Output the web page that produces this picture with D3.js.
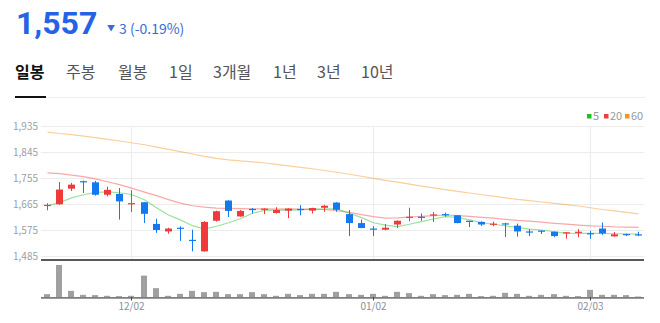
<!DOCTYPE html>
<html>
<head>
<meta charset="utf-8">
<script src="https://cdn.jsdelivr.net/npm/d3@7"></script>
<style>
  body { margin: 0; background: #fff; }
  svg { display: block; font-family: "Noto Sans CJK KR", "Noto Sans", sans-serif; }
</style>
</head>
<body>
<svg id="chart" width="660" height="323"></svg>
<script>
const dates = ["11/21","11/22","11/25","11/26","11/27","11/28","11/29","12/02","12/03","12/04",
  "12/05","12/06","12/09","12/10","12/11","12/12","12/13","12/16","12/17","12/18",
  "12/19","12/20","12/23","12/24","12/26","12/27","12/30","01/02","01/03","01/06",
  "01/07","01/08","01/09","01/10","01/13","01/14","01/15","01/16","01/17","01/20",
  "01/21","01/22","01/23","01/24","01/31","02/03","02/04","02/05","02/06","02/07"];
const opens = [1659,1664,1718,1744,1740,1697,1700,1665,1671,1596,
  1570,1583,1541,1501,1607,1677,1622,1648,1647,1634,
  1642,1648,1642,1652,1670,1630,1599,1580,1576,1594,
  1618,1621,1627,1630,1626,1607,1603,1595,1598,1590,
  1570,1573,1569,1565,1567,1564,1580,1553,1561,1560];
const highs = [1668,1741,1738,1746,1745,1725,1720,1713,1672,1614,
  1583,1588,1576,1606,1642,1678,1644,1651,1650,1654,
  1650,1661,1652,1662,1671,1644,1611,1588,1596,1608,
  1652,1632,1637,1635,1627,1607,1605,1604,1600,1597,
  1578,1574,1570,1568,1578,1572,1601,1568,1562,1569];
const lows = [1643,1662,1710,1703,1694,1691,1611,1637,1599,1565,
  1562,1537,1501,1500,1604,1620,1621,1632,1630,1632,
  1616,1626,1632,1638,1638,1554,1581,1554,1574,1582,
  1605,1607,1603,1621,1598,1585,1589,1588,1551,1552,
  1554,1561,1550,1545,1550,1545,1558,1552,1554,1554];
const closes = [1662,1715,1732,1742,1697,1714,1674,1668,1631,1575,
  1580,1581,1539,1603,1640,1641,1641,1644,1649,1644,
  1649,1647,1651,1659,1645,1599,1582,1579,1583,1607,
  1621,1620,1629,1629,1599,1605,1594,1597,1597,1570,
  1569,1570,1554,1567,1569,1563,1563,1560,1560,1557];
const volumes = [34,327,67,27,24,17,14,17,220,94,
  17,37,67,54,57,34,34,54,34,17,
  37,24,37,37,57,34,27,37,17,57,
  44,17,34,24,27,37,14,17,47,37,
  17,27,34,17,14,77,27,27,24,10];
const ma5 = [1659,1670,1686,1697,1705,1707,1704,1698,1680,1652,
  1627,1610,1590,1578,1588,1600,1614,1633,1643,1644,
  1644,1645,1647,1647,1649,1633,1618,1600,1592,1587,
  1595,1604,1613,1621,1619,1610,1600,1595,1589,1584,
  1578,1575,1569,1564,1563,1563,1563,1562,1562,1561];
const ma20 = [1773,1770,1765,1760,1752,1742,1732,1720,1706,1694,
  1680,1668,1659,1654,1651,1650,1649,1648,1648,1647,
  1648,1647,1647,1646,1642,1636,1628,1621,1616,1617,
  1620,1622,1625,1627,1625,1622,1619,1616,1612,1608,
  1606,1602,1598,1595,1592,1589,1588,1586,1585,1584];
const ma60 = [1914,1909,1905,1900,1895,1889,1883,1877,1870,1862,
  1854,1846,1838,1830,1823,1818,1814,1811,1807,1802,
  1797,1792,1787,1781,1775,1768,1761,1754,1747,1741,
  1734,1727,1721,1715,1709,1703,1697,1692,1686,1681,
  1677,1672,1667,1663,1658,1652,1646,1641,1636,1631];
const priceTicks = [1485, 1575, 1665, 1755, 1845, 1935];
const dateTicks = ["12/02", "01/02", "02/03"];
const tabs = ["일봉", "주봉", "월봉", "1일", "3개월", "1년", "3년", "10년"];
const legend = [{ name: "5", color: "#1ec21e" }, { name: "20", color: "#f23d3d" }, { name: "60", color: "#f7931e" }];

const UP = "#f03a3a";
const DOWN = "#1479ee";

const svg = d3.select("#chart");

// header
svg.append("text")
  .attr("x", 16).attr("y", 34)
  .attr("fill", "#2463e6")
  .style("font-family", "Roboto, 'Liberation Sans', sans-serif")
  .style("font-size", "32px").style("font-weight", "bold")
  .text("1,557");
svg.append("text")
  .attr("x", 107).attr("y", 31)
  .attr("fill", "#3a6cd8")
  .style("font-size", "8px")
  .text("▼");
svg.append("text")
  .attr("x", 119).attr("y", 34)
  .attr("fill", "#3a6cd8")
  .style("font-size", "14px")
  .text("3 (-0.19%)");

// tabs
const tabX = [15, 66, 118, 169, 213, 273, 317, 361];
tabs.forEach((t, i) => {
  svg.append("text")
    .attr("x", tabX[i]).attr("y", 78)
    .attr("fill", i === 0 ? "#111" : "#555")
    .style("font-size", "16px")
    .style("font-weight", i === 0 ? "bold" : "normal")
    .text(t);
});
svg.append("line").attr("x1", 15).attr("x2", 645).attr("y1", 97.5).attr("y2", 97.5)
  .attr("stroke", "#eeeeee");
svg.append("line").attr("x1", 15).attr("x2", 46).attr("y1", 97).attr("y2", 97)
  .attr("stroke", "#111").attr("stroke-width", 2);

// scales
const x = d3.scaleBand().domain(dates).range([41, 644]);
const cx = d => Math.round(x(d) + x.bandwidth() / 2) + 0.5;
const y = d3.scaleLinear().domain([1485, 1935]).range([256, 126]);
const yv = d3.scaleLinear().domain([0, d3.max(volumes)]).range([297.5, 265]);

// grid
priceTicks.forEach(p => {
  svg.append("line")
    .attr("x1", 41).attr("x2", 644)
    .attr("y1", Math.round(y(p)) + 0.5).attr("y2", Math.round(y(p)) + 0.5)
    .attr("stroke", "#ececec");
  svg.append("text")
    .attr("x", 38).attr("y", y(p)).attr("dy", "0.35em")
    .attr("text-anchor", "end")
    .attr("fill", "#9aa0a8")
    .style("font-size", "10px")
    .text(d3.format(",")(p));
});
dateTicks.forEach(d => {
  svg.append("line")
    .attr("x1", cx(d)).attr("x2", cx(d)).attr("y1", 126).attr("y2", 259)
    .attr("stroke", "#ececec");
});

// legend
let lx = 587;
legend.forEach((l, i) => {
  svg.append("rect").attr("x", lx).attr("y", 114).attr("width", 4.5).attr("height", 4.5).attr("fill", l.color);
  svg.append("text").attr("x", lx + 6).attr("y", 119.5)
    .attr("fill", "#999").style("font-size", "11px").text(l.name);
  lx += i === 0 ? 17 : 21;
});

// moving averages
const maLine = d3.line().x((v, i) => cx(dates[i])).y(v => y(v));
[[ma60, legend[2].color], [ma20, legend[1].color], [ma5, legend[0].color]].forEach(([s, c]) => {
  svg.append("path")
    .attr("d", maLine(s))
    .attr("fill", "none")
    .attr("stroke", c)
    .attr("stroke-opacity", 0.45)
    .attr("stroke-width", 1.2);
});

// candles
dates.forEach((d, i) => {
  const c = closes[i] >= opens[i] ? UP : DOWN;
  const xc = cx(d);
  svg.append("line")
    .attr("x1", xc).attr("x2", xc)
    .attr("y1", y(highs[i])).attr("y2", y(lows[i]))
    .attr("stroke", c);
  const top = y(Math.max(opens[i], closes[i]));
  const bot = y(Math.min(opens[i], closes[i]));
  svg.append("rect")
    .attr("x", xc - 3.5).attr("width", 7)
    .attr("y", top).attr("height", Math.max(1.2, bot - top))
    .attr("fill", c);
});

// separator
svg.append("line").attr("x1", 41).attr("x2", 644).attr("y1", 260).attr("y2", 260)
  .attr("stroke", "#222").attr("stroke-width", 1.5);

// volume
dates.forEach((d, i) => {
  svg.append("rect")
    .attr("x", cx(d) - 3.5).attr("width", 6)
    .attr("y", yv(volumes[i])).attr("height", 297.5 - yv(volumes[i]))
    .attr("fill", "#a0a0a0");
});
svg.append("line").attr("x1", 41).attr("x2", 644).attr("y1", 297.8).attr("y2", 297.8)
  .attr("stroke", "#7d7d7d").attr("stroke-width", 1.8);

// x axis ticks
dateTicks.forEach(d => {
  svg.append("line").attr("x1", cx(d)).attr("x2", cx(d)).attr("y1", 297).attr("y2", 300.5)
    .attr("stroke", "#444");
  svg.append("text")
    .attr("x", cx(d)).attr("y", 310)
    .attr("text-anchor", "middle")
    .attr("fill", "#8a9099")
    .style("font-size", "10px")
    .text(d);
});
</script>
</body>
</html>
